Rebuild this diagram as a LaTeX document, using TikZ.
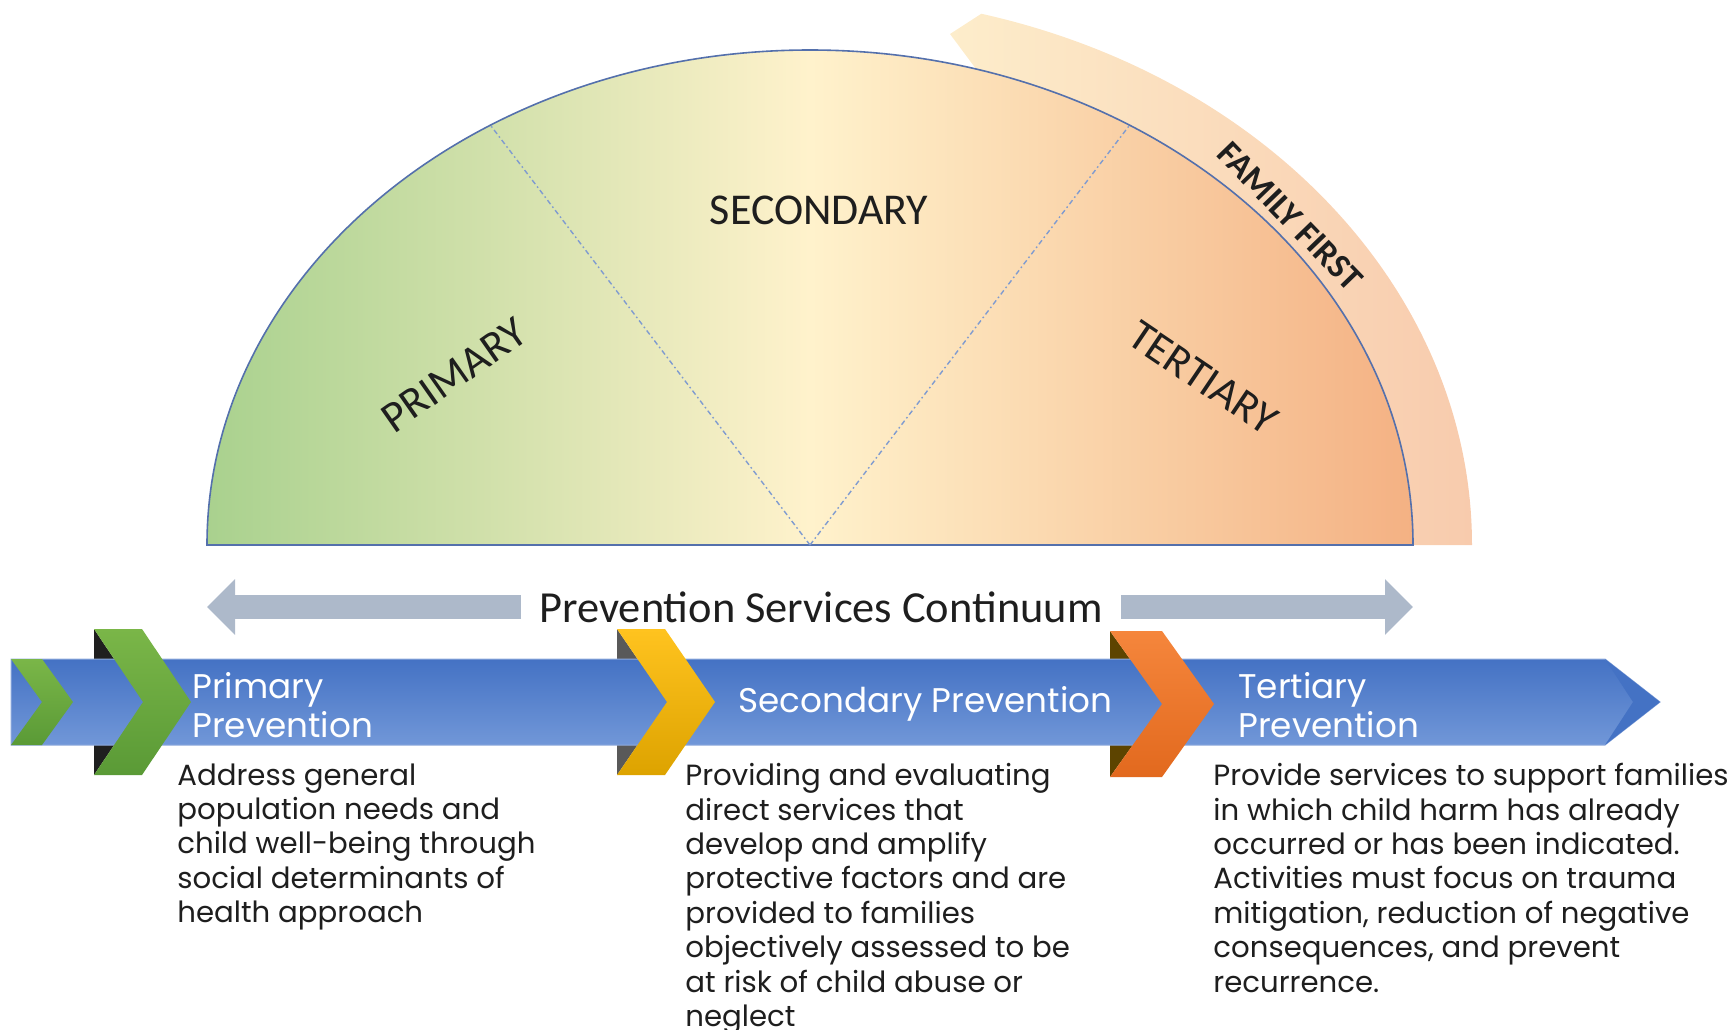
\documentclass[tikz,border=0pt]{standalone}
\usepackage{fontspec}
\setmainfont{Poppins}
\newfontfamily\calfont{Carlito}
\usetikzlibrary{positioning,arrows.meta,calc}

\definecolor{semileft}{HTML}{A9D18E}
\definecolor{semimid}{HTML}{FFF2CC}
\definecolor{semiright}{HTML}{F4B183}
\definecolor{ffleft}{HTML}{FDEDCB}
\definecolor{ffright}{HTML}{F8CBAD}
\definecolor{rimblue}{HTML}{5470AC}
\definecolor{divblue}{HTML}{7F9BD0}
\definecolor{contgray}{HTML}{ADB9CA}
\definecolor{bandtop}{HTML}{4472C4}
\definecolor{bandbot}{HTML}{7197D8}
\definecolor{bandline}{HTML}{8FAADC}
\definecolor{green1}{HTML}{7AB648}
\definecolor{green2}{HTML}{5A9A36}
\definecolor{yellow1}{HTML}{FFC31F}
\definecolor{yellow2}{HTML}{DDA300}
\definecolor{orange1}{HTML}{F5863C}
\definecolor{orange2}{HTML}{E2691E}
\definecolor{textdark}{HTML}{1E1E1E}

\begin{document}
\begin{tikzpicture}[x=0.5pt, y=-0.5pt,
    seglabel/.style={font=\calfont\fontsize{22}{26}\selectfont, text=textdark, inner sep=0pt},
    headtext/.style={font=\fontsize{17.1}{19.5}\selectfont, text=white, align=left, anchor=west, inner sep=0pt},
    bodytext/.style={font=\fontsize{14.6}{17.2}\selectfont, text=textdark, align=left, anchor=north west, inner sep=0pt},
    divider/.style={draw=divblue, line width=0.7pt, dash pattern=on 2.5pt off 1.5pt on 0.8pt off 1.5pt},
    contarrow/.style={draw=contgray, line width=12pt, -{Triangle[length=14pt,width=27pt]}},
    greenchev/.style={top color=green1, bottom color=green2},
    yellowchev/.style={top color=yellow1, bottom color=yellow2},
    orangechev/.style={top color=orange1, bottom color=orange2}
    ]
    \useasboundingbox (0,0) rectangle (1736,1029);

    % half dial
    \coordinate (ctr) at (810,545);
    \path[left color=ffleft, right color=ffright] (950,34) -- ($(ctr)+(285:662 and 550)$)
        arc[start angle=285, end angle=360, x radius=662, y radius=550]
        -- ($(ctr)+(603,0)$) arc[start angle=360, end angle=286, x radius=603, y radius=495] -- cycle;
    \path[draw=rimblue, line width=0.8pt, left color=semileft, right color=semiright, middle color=semimid]
        ($(ctr)+(-603,0)$) arc[start angle=180, end angle=360, x radius=603, y radius=495] -- cycle;
    \coordinate (divL) at ($(ctr)+(238:603 and 495)$);
    \coordinate (divR) at ($(ctr)+(302:603 and 495)$);
    \draw[divider] (ctr) -- (divL);
    \draw[divider] (ctr) -- (divR);

    \node[seglabel, rotate=35] (primary) at (454,375) {PRIMARY};
    \node[seglabel] (secondary) at (819,210) {SECONDARY};
    \node[seglabel, rotate=-34] (tertiary) at (1203,378) {TERTIARY};
    \node[seglabel, font=\calfont\bfseries\fontsize{17.5}{20}\selectfont, rotate=-46] (family) at (1290,216) {FAMILY FIRST};

    % continuum arrow
    \node[font=\calfont\fontsize{22.2}{26}\selectfont, text=textdark, inner xsep=9pt] (cont) at (821,607) {Prevention Services Continuum};
    \coordinate (lefttip) at (207,607);
    \coordinate (righttip) at (1413,607);
    \path[contarrow] (cont.west) -- (lefttip);
    \path[contarrow] (cont.east) -- (righttip);

    % shadows behind the band
    \fill[black!88] (94,629) -- (143,702) -- (94,775) -- cycle;
    \fill[black!65] (617,629) -- (667,702) -- (617,775) -- cycle;
    \fill[black!30!yellow2!60!black] (1110,631) -- (1162,704) -- (1110,777) -- cycle;

    % band
    \path[top color=bandtop, bottom color=bandbot, draw=bandline, line width=0.5pt]
        (11,659) -- (1605,659) -- (1660,702) -- (1605,745) -- (11,745) -- cycle;
    \fill[bandtop] (1605,659) -- (1660,702) -- (1605,745) -- (1633,702) -- cycle;

    % chevrons
    \path[greenchev] (11,659) -- ++(31,0) -- ++(31,43) -- ++(-31,43) -- ++(-31,0) -- ++(31,-43) -- cycle;
    \path[greenchev] (94,629) -- ++(48,0) -- ++(49,73) -- ++(-49,73) -- ++(-48,0) -- ++(49,-73) -- cycle;
    \path[yellowchev] (617,629) -- ++(48,0) -- ++(50,73) -- ++(-50,73) -- ++(-48,0) -- ++(50,-73) -- cycle;
    \path[orangechev] (1110,631) -- ++(52,0) -- ++(52,73) -- ++(-52,73) -- ++(-52,0) -- ++(52,-73) -- cycle;

    % headings
    \node[headtext] (primhead) at (192,705) {Primary\\Prevention};
    \node[headtext] (sechead) at (738,704) {Secondary Prevention};
    \node[headtext] (terthead) at (1238,705) {Tertiary\\Prevention};

    % descriptions
    \node[bodytext] (primtext) at (177,763) {Address general\\population needs and\\child well-being through\\social determinants of\\health approach};
    \node[bodytext] (sectext) at (685,763) {Providing and evaluating\\direct services that\\develop and amplify\\protective factors and are\\provided to families\\objectively assessed to be\\at risk of child abuse or\\neglect};
    \node[bodytext] (terttext) at (1213,763) {Provide services to support families\\in which child harm has already\\occurred or has been indicated.\\Activities must focus on trauma\\mitigation, reduction of negative\\consequences, and prevent\\recurrence.};
\end{tikzpicture}
\end{document}
